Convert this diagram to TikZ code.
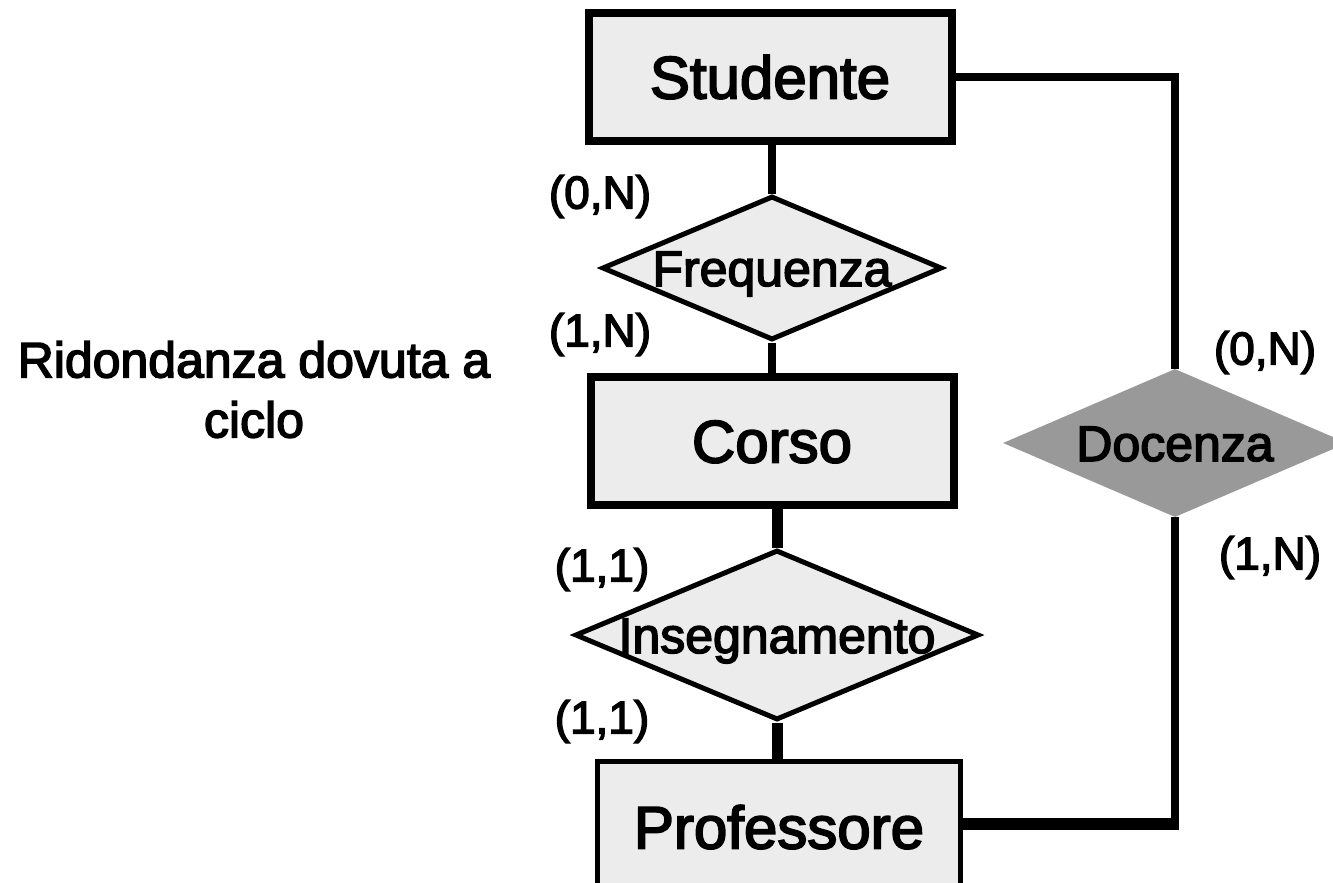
\documentclass[tikz,border=0pt]{standalone}
\usepackage{fontspec}
\setmainfont{Liberation Sans}[BoldFont={Liberation Sans}, BoldFeatures={FakeBold=3}]
\usetikzlibrary{shapes.geometric}
\definecolor{boxfill}{HTML}{ECECEC}
\definecolor{relgray}{HTML}{999999}
\begin{document}
\begin{tikzpicture}[x=1pt,y=-1pt,
  entity/.style={draw, fill=boxfill, inner sep=0pt, minimum width=363pt,
    font=\fontsize{60}{72}\selectfont\bfseries, text height=43pt, text depth=0pt},
  relation/.style={diamond, draw, fill=boxfill, line width=5pt, inner sep=0pt,
    font=\fontsize{50}{60}\selectfont\bfseries, text height=36pt, text depth=0pt},
  card/.style={inner sep=0pt, font=\fontsize{46}{55}\selectfont\bfseries,
    text height=33pt, text depth=0pt},
  thin link/.style={line width=8pt},
  thick link/.style={line width=11pt},
  heavy link/.style={line width=12pt}]
\clip (0,0) rectangle (1333,883);

% entities
\node[entity, line width=8pt, minimum height=128pt] (stud) at (770,77) {Studente};
\node[entity, line width=8pt, minimum height=128pt] (corso) at (772,441) {Corso};
\node[entity, line width=5pt, minimum height=131pt] (prof) at (779,827) {Professore};

% relationships
\node[relation, minimum width=340pt, minimum height=144pt] (freq) at (772,268)
  {\makebox[0pt]{Frequenza}};
\node[relation, minimum width=404pt, minimum height=170pt] (ins) at (777,635)
  {\makebox[0pt]{Insegnamento}};
\node[diamond, fill=relgray, inner sep=0pt, minimum width=344pt, minimum height=148pt,
  font=\fontsize{50}{60}\selectfont\bfseries, text height=36pt, text depth=0pt]
  (doc) at (1175,443) {\makebox[0pt]{Docenza}};

% links
\draw[thin link] (stud.south -| freq.north) -- (freq.north);
\draw[thin link] (freq.south) -- (freq.south |- corso.north);
\draw[thick link] (corso.south -| ins.north) -- (ins.north);
\draw[thick link] (ins.south) -- (ins.south |- prof.north);
\draw[thin link, line join=miter] (stud.east) -| (doc.north);
\coordinate (corner) at (1175,824);
\draw[heavy link, shorten >=-4pt] (prof.east |- corner) -- (corner);
\draw[thin link, shorten >=-6pt] (doc.south) -- (corner);

% cardinalities
\node[card] (c1) at (600,192) {(0,N)};
\node[card] (c2) at (600,330) {(1,N)};
\node[card] (c3) at (602,565) {(1,1)};
\node[card] (c4) at (602,717) {(1,1)};
\node[card] (c5) at (1265,348) {(0,N)};
\node[card] (c6) at (1270,553) {(1,N)};

% note
\node[anchor=north, inner sep=0pt, align=center, font=\fontsize{50}{60}\selectfont\bfseries]
  (note) at (254,341) {Ridondanza dovuta a\\ciclo};
\end{tikzpicture}
\end{document}
